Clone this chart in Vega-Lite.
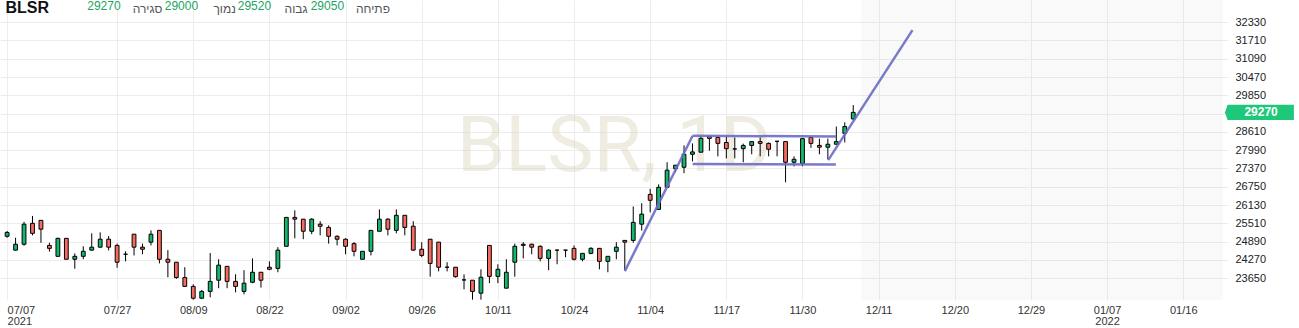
{
  "$schema": "https://vega.github.io/schema/vega-lite/v6.json",
  "width": 1228,
  "height": 300,
  "autosize": {"type": "none"},
  "padding": {"left": 0, "top": 0, "right": 71, "bottom": 28},
  "background": "white",
  "config": {"view": {"stroke": null}, "font": "Liberation Sans"},
  "datasets": {
    "candles": [
      {"i":0,"o":25070,"h":25250,"l":25020,"c":25200},
      {"i":1,"o":24600,"h":25020,"l":24590,"c":24800},
      {"i":2,"o":24800,"h":25560,"l":24750,"c":25480},
      {"i":3,"o":25510,"h":25760,"l":25100,"c":25170},
      {"i":4,"o":25610,"h":25610,"l":24850,"c":25310},
      {"i":5,"o":24760,"h":24850,"l":24550,"c":24660},
      {"i":6,"o":24390,"h":25020,"l":24380,"c":25000},
      {"i":7,"o":25000,"h":25000,"l":24290,"c":24290},
      {"i":8,"o":24290,"h":24490,"l":23970,"c":24390},
      {"i":9,"o":24390,"h":24730,"l":24290,"c":24560},
      {"i":10,"o":24600,"h":25170,"l":24590,"c":24700},
      {"i":11,"o":24700,"h":25200,"l":24690,"c":24970},
      {"i":12,"o":24970,"h":25080,"l":24590,"c":24700},
      {"i":13,"o":24760,"h":24820,"l":24000,"c":24190},
      {"i":14,"o":24460,"h":24560,"l":24220,"c":24460},
      {"i":15,"o":25140,"h":25140,"l":24420,"c":24700},
      {"i":16,"o":24700,"h":24820,"l":24460,"c":24630},
      {"i":17,"o":24870,"h":25270,"l":24760,"c":25140},
      {"i":18,"o":25270,"h":25270,"l":24150,"c":24290},
      {"i":19,"o":24290,"h":24600,"l":23680,"c":24190},
      {"i":20,"o":24190,"h":24190,"l":23630,"c":23670},
      {"i":21,"o":23670,"h":24020,"l":23360,"c":23370},
      {"i":22,"o":23370,"h":23440,"l":22920,"c":22970},
      {"i":23,"o":22970,"h":23250,"l":22940,"c":23200},
      {"i":24,"o":23200,"h":24500,"l":23000,"c":23540},
      {"i":25,"o":23580,"h":24290,"l":23310,"c":24090},
      {"i":26,"o":24050,"h":24050,"l":23310,"c":23540},
      {"i":27,"o":23540,"h":23780,"l":23170,"c":23370},
      {"i":28,"o":23200,"h":23920,"l":23100,"c":23480},
      {"i":29,"o":23510,"h":24320,"l":23480,"c":23850},
      {"i":30,"o":23850,"h":23850,"l":23330,"c":23580},
      {"i":31,"o":24020,"h":24220,"l":23920,"c":23950},
      {"i":32,"o":23980,"h":24700,"l":23850,"c":24600},
      {"i":33,"o":24730,"h":25710,"l":24730,"c":25710},
      {"i":34,"o":25710,"h":25950,"l":25000,"c":25650},
      {"i":35,"o":25650,"h":25650,"l":24970,"c":25240},
      {"i":36,"o":25240,"h":25680,"l":25140,"c":25650},
      {"i":37,"o":25480,"h":25580,"l":25100,"c":25410},
      {"i":38,"o":25370,"h":25440,"l":24820,"c":25070},
      {"i":39,"o":25070,"h":25100,"l":24760,"c":24970},
      {"i":40,"o":24970,"h":25000,"l":24460,"c":24730},
      {"i":41,"o":24820,"h":24870,"l":24390,"c":24560},
      {"i":42,"o":24290,"h":24560,"l":24290,"c":24560},
      {"i":43,"o":24560,"h":25270,"l":24420,"c":25270},
      {"i":44,"o":25240,"h":25980,"l":25240,"c":25650},
      {"i":45,"o":25650,"h":25680,"l":25100,"c":25310},
      {"i":46,"o":25270,"h":25980,"l":25170,"c":25780},
      {"i":47,"o":25780,"h":25780,"l":25100,"c":25370},
      {"i":48,"o":25410,"h":25580,"l":24590,"c":24600},
      {"i":49,"o":24630,"h":24870,"l":24360,"c":24420},
      {"i":50,"o":24970,"h":24970,"l":23700,"c":24150},
      {"i":51,"o":24870,"h":24870,"l":23880,"c":24020},
      {"i":52,"o":24020,"h":24190,"l":23880,"c":24020},
      {"i":53,"o":24020,"h":24020,"l":23670,"c":23700},
      {"i":54,"o":23590,"h":23780,"l":23270,"c":23590},
      {"i":55,"o":23580,"h":23580,"l":22920,"c":23200},
      {"i":56,"o":23140,"h":23950,"l":22920,"c":23680},
      {"i":57,"o":24760,"h":24760,"l":23480,"c":23710},
      {"i":58,"o":23710,"h":24120,"l":23480,"c":23950},
      {"i":59,"o":23310,"h":24290,"l":23310,"c":23850},
      {"i":60,"o":24190,"h":24820,"l":23700,"c":24730},
      {"i":61,"o":24800,"h":24870,"l":24320,"c":24760},
      {"i":62,"o":24800,"h":24820,"l":24460,"c":24700},
      {"i":63,"o":24730,"h":24760,"l":24220,"c":24320},
      {"i":64,"o":24320,"h":24630,"l":23920,"c":24600},
      {"i":65,"o":24600,"h":24600,"l":24120,"c":24600},
      {"i":66,"o":24600,"h":24600,"l":24360,"c":24600},
      {"i":67,"o":24660,"h":24760,"l":24250,"c":24290},
      {"i":68,"o":24290,"h":24500,"l":24220,"c":24490},
      {"i":69,"o":24490,"h":24700,"l":24460,"c":24660},
      {"i":70,"o":24660,"h":24660,"l":23950,"c":24220},
      {"i":71,"o":24220,"h":24390,"l":23850,"c":24390},
      {"i":72,"o":24560,"h":24870,"l":24290,"c":24700},
      {"i":73,"o":24930,"h":24930,"l":23910,"c":24870},
      {"i":74,"o":24930,"h":26080,"l":24850,"c":25540},
      {"i":75,"o":25480,"h":26190,"l":25260,"c":25820},
      {"i":76,"o":26490,"h":26680,"l":25880,"c":26290},
      {"i":77,"o":25980,"h":26830,"l":25980,"c":26730},
      {"i":78,"o":26730,"h":27580,"l":26730,"c":27310},
      {"i":79,"o":27360,"h":27480,"l":27240,"c":27480},
      {"i":80,"o":27410,"h":28150,"l":27210,"c":27850},
      {"i":81,"o":27850,"h":28220,"l":27610,"c":27930},
      {"i":82,"o":27920,"h":28450,"l":27920,"c":28390},
      {"i":83,"o":28450,"h":28480,"l":27970,"c":28390},
      {"i":84,"o":28420,"h":28450,"l":27780,"c":28220},
      {"i":85,"o":28250,"h":28450,"l":27710,"c":28040},
      {"i":86,"o":28030,"h":28420,"l":27710,"c":28030},
      {"i":87,"o":28040,"h":28210,"l":27580,"c":28150},
      {"i":88,"o":28150,"h":28280,"l":27850,"c":28280},
      {"i":89,"o":28280,"h":28420,"l":27780,"c":28220},
      {"i":90,"o":28220,"h":28250,"l":27780,"c":28020},
      {"i":91,"o":28290,"h":28300,"l":27780,"c":28290},
      {"i":92,"o":28280,"h":28280,"l":26900,"c":27580},
      {"i":93,"o":27580,"h":27780,"l":27440,"c":27680},
      {"i":94,"o":27540,"h":28380,"l":27440,"c":28380},
      {"i":95,"o":28420,"h":28420,"l":28070,"c":28220},
      {"i":96,"o":28150,"h":28380,"l":27850,"c":28090},
      {"i":97,"o":28090,"h":28380,"l":27680,"c":28190},
      {"i":98,"o":28190,"h":28790,"l":28190,"c":28280},
      {"i":99,"o":28560,"h":28930,"l":28250,"c":28790},
      {"i":100,"o":29050,"h":29520,"l":29000,"c":29270}
    ],
    "drawings": [
      {"seg":"a","i":73.01,"p":23890},
      {"seg":"a","i":81.02,"p":28480},
      {"seg":"b","i":81.02,"p":28480},
      {"seg":"b","i":97.95,"p":28450},
      {"seg":"c","i":81.02,"p":27520},
      {"seg":"c","i":97.95,"p":27500},
      {"seg":"d","i":97.04,"p":27650},
      {"seg":"d","i":107.0,"p":32060}
    ],
    "future": [{"from": 100.91, "to": 143.7}]
  },
  "layer": [
    {
      "data": {"name": "future"},
      "mark": {"type": "rect", "fill": "#cfcfcf", "opacity": 0.12},
      "encoding": {
        "x": {
          "field": "from", "type": "quantitative",
          "scale": {"domain": [-0.25, 143.7], "nice": false, "zero": false},
          "axis": {
            "title": null,
            "values": [0,13,22,31,40,49,58,67,76,85,94,103,112,121,130,139],
            "tickCount": 40,
            "labelExpr": "[['07/07','2021'],'07/27','08/09','08/22','09/02','09/26','10/11','10/24','11/04','11/17','11/30','12/11','12/20','12/29',['01/07','2022'],'01/16'][indexof([0,13,22,31,40,49,58,67,76,85,94,103,112,121,130,139], datum.value)]",
            "labelAlign": {"condition": {"test": "datum.value == 0", "value": "left"}, "value": "center"},
            "domain": false, "ticks": false, "grid": true, "gridColor": "#ececec",
            "labelPadding": 4, "labelFontSize": 11, "labelColor": "#333333",
            "labelOverlap": false, "labelBound": false, "labelBaseline": "top", "labelLineHeight": 11
          }
        },
        "x2": {"field": "to"}
      }
    },
    {
      "data": {"values": [{"t": "BLSR, 1D"}]},
      "mark": {"type": "text", "font": "Roboto", "fontSize": 78, "align": "center", "baseline": "alphabetic",
               "x": {"expr": "width/2"}, "y": {"expr": "height*0.57"}, "fill": "#d8cfb6", "fillOpacity": 0.4},
      "encoding": {"text": {"field": "t"}}
    },
    {
      "data": {"name": "candles"},
      "mark": {"type": "rule", "color": "#000000", "strokeWidth": 1},
      "encoding": {
        "x": {"field": "i", "type": "quantitative", "scale": {"domain": [-0.25, 143.7], "nice": false, "zero": false}},
        "y": {
          "field": "l", "type": "quantitative",
          "scale": {"domain": [22909, 33081], "nice": false, "zero": false},
          "axis": {
            "title": null, "orient": "right",
            "values": [23650,24270,24890,25510,26130,26750,27370,27990,28610,29230,29850,30470,31090,31710,32330],
            "tickCount": 40,
            "labelExpr": "datum.value == 29230 ? '' : format(datum.value, 'd')",
            "domain": false, "ticks": false, "grid": true, "gridColor": "#ececec",
            "labelPadding": 7, "labelFontSize": 11, "labelColor": "#222222", "labelOverlap": false
          }
        },
        "y2": {"field": "h"}
      }
    },
    {
      "data": {"name": "candles"},
      "mark": {"type": "bar", "width": 3.8, "stroke": "#000000", "strokeWidth": 1},
      "encoding": {
        "x": {"field": "i", "type": "quantitative", "scale": {"domain": [-0.25, 143.7], "nice": false, "zero": false}},
        "y": {"field": "o", "type": "quantitative", "scale": {"domain": [22909, 33081], "nice": false, "zero": false}},
        "y2": {"field": "c"},
        "fill": {
          "condition": [
            {"test": "datum.c > datum.o", "value": "#14b86d"},
            {"test": "datum.c < datum.o", "value": "#f86a5e"}
          ],
          "value": "#000000"
        }
      }
    },
    {
      "data": {"name": "drawings"},
      "mark": {"type": "line", "color": "#6b6bc4", "strokeWidth": 2.5, "opacity": 0.9},
      "encoding": {
        "x": {"field": "i", "type": "quantitative", "scale": {"domain": [-0.25, 143.7], "nice": false, "zero": false}},
        "y": {"field": "p", "type": "quantitative", "scale": {"domain": [22909, 33081], "nice": false, "zero": false}},
        "detail": {"field": "seg"}
      }
    },
    {
      "data": {"values": [{"t": "BLSR"}]},
      "mark": {"type": "text", "align": "left", "baseline": "alphabetic", "fontSize": 16, "fontWeight": "bold", "color": "#111111"},
      "encoding": {
        "x": {"datum": -0.19, "type": "quantitative", "scale": {"domain": [-0.25, 143.7], "nice": false, "zero": false}},
        "y": {"datum": 32650, "type": "quantitative", "scale": {"domain": [22909, 33081], "nice": false, "zero": false}},
        "text": {"field": "t"}
      }
    },
    {
      "data": {"name": "candles"},
      "transform": [{"filter": "datum.i == 100"}],
      "mark": {"type": "text", "align": "center", "baseline": "alphabetic", "fontSize": 12, "color": "#20a45f"},
      "encoding": {
        "x": {"datum": 11.44, "type": "quantitative", "scale": {"domain": [-0.25, 143.7], "nice": false, "zero": false}},
        "y": {"datum": 32732, "type": "quantitative", "scale": {"domain": [22909, 33081], "nice": false, "zero": false}},
        "text": {"field": "c", "type": "quantitative", "format": "d"}
      }
    },
    {
      "data": {"values": [{"t": "סגירה"}]},
      "mark": {"type": "text", "align": "center", "baseline": "alphabetic", "fontSize": 12, "color": "#555555"},
      "encoding": {
        "x": {"datum": 16.6, "type": "quantitative", "scale": {"domain": [-0.25, 143.7], "nice": false, "zero": false}},
        "y": {"datum": 32657, "type": "quantitative", "scale": {"domain": [22909, 33081], "nice": false, "zero": false}},
        "text": {"field": "t"}
      }
    },
    {
      "data": {"name": "candles"},
      "transform": [{"filter": "datum.i == 100"}],
      "mark": {"type": "text", "align": "center", "baseline": "alphabetic", "fontSize": 12, "color": "#20a45f"},
      "encoding": {
        "x": {"datum": 20.6, "type": "quantitative", "scale": {"domain": [-0.25, 143.7], "nice": false, "zero": false}},
        "y": {"datum": 32732, "type": "quantitative", "scale": {"domain": [22909, 33081], "nice": false, "zero": false}},
        "text": {"field": "l", "type": "quantitative", "format": "d"}
      }
    },
    {
      "data": {"values": [{"t": "נמוך"}]},
      "mark": {"type": "text", "align": "center", "baseline": "alphabetic", "fontSize": 12, "color": "#555555"},
      "encoding": {
        "x": {"datum": 25.71, "type": "quantitative", "scale": {"domain": [-0.25, 143.7], "nice": false, "zero": false}},
        "y": {"datum": 32657, "type": "quantitative", "scale": {"domain": [22909, 33081], "nice": false, "zero": false}},
        "text": {"field": "t"}
      }
    },
    {
      "data": {"name": "candles"},
      "transform": [{"filter": "datum.i == 100"}],
      "mark": {"type": "text", "align": "center", "baseline": "alphabetic", "fontSize": 12, "color": "#20a45f"},
      "encoding": {
        "x": {"datum": 29.23, "type": "quantitative", "scale": {"domain": [-0.25, 143.7], "nice": false, "zero": false}},
        "y": {"datum": 32732, "type": "quantitative", "scale": {"domain": [22909, 33081], "nice": false, "zero": false}},
        "text": {"field": "h", "type": "quantitative", "format": "d"}
      }
    },
    {
      "data": {"values": [{"t": "גבוה"}]},
      "mark": {"type": "text", "align": "center", "baseline": "alphabetic", "fontSize": 12, "color": "#555555"},
      "encoding": {
        "x": {"datum": 34.15, "type": "quantitative", "scale": {"domain": [-0.25, 143.7], "nice": false, "zero": false}},
        "y": {"datum": 32657, "type": "quantitative", "scale": {"domain": [22909, 33081], "nice": false, "zero": false}},
        "text": {"field": "t"}
      }
    },
    {
      "data": {"name": "candles"},
      "transform": [{"filter": "datum.i == 100"}],
      "mark": {"type": "text", "align": "center", "baseline": "alphabetic", "fontSize": 12, "color": "#20a45f"},
      "encoding": {
        "x": {"datum": 37.85, "type": "quantitative", "scale": {"domain": [-0.25, 143.7], "nice": false, "zero": false}},
        "y": {"datum": 32732, "type": "quantitative", "scale": {"domain": [22909, 33081], "nice": false, "zero": false}},
        "text": {"field": "o", "type": "quantitative", "format": "d"}
      }
    },
    {
      "data": {"values": [{"t": "פתיחה"}]},
      "mark": {"type": "text", "align": "center", "baseline": "alphabetic", "fontSize": 12, "color": "#555555"},
      "encoding": {
        "x": {"datum": 43.24, "type": "quantitative", "scale": {"domain": [-0.25, 143.7], "nice": false, "zero": false}},
        "y": {"datum": 32657, "type": "quantitative", "scale": {"domain": [22909, 33081], "nice": false, "zero": false}},
        "text": {"field": "t"}
      }
    },
    {
      "data": {"name": "candles"},
      "transform": [{"filter": "datum.i == 100"}],
      "mark": {"type": "point", "shape": "M -1 0 L -0.92 -0.22 L 1 -0.22 L 1 0.22 L -0.92 0.22 Z", "size": 4761, "filled": true, "fill": "#1ec77a", "opacity": 1, "strokeWidth": 0},
      "encoding": {
        "x": {"datum": 148.0, "type": "quantitative", "scale": {"domain": [-0.25, 143.7], "nice": false, "zero": false}},
        "y": {"field": "c", "type": "quantitative", "scale": {"domain": [22909, 33081], "nice": false, "zero": false}}
      }
    },
    {
      "data": {"name": "candles"},
      "transform": [{"filter": "datum.i == 100"}],
      "mark": {"type": "text", "align": "center", "baseline": "middle", "fontSize": 12, "fontWeight": "bold", "color": "#ffffff"},
      "encoding": {
        "x": {"datum": 148.2, "type": "quantitative", "scale": {"domain": [-0.25, 143.7], "nice": false, "zero": false}},
        "y": {"field": "c", "type": "quantitative", "scale": {"domain": [22909, 33081], "nice": false, "zero": false}},
        "text": {"field": "c", "type": "quantitative", "format": "d"}
      }
    }
  ]
}
